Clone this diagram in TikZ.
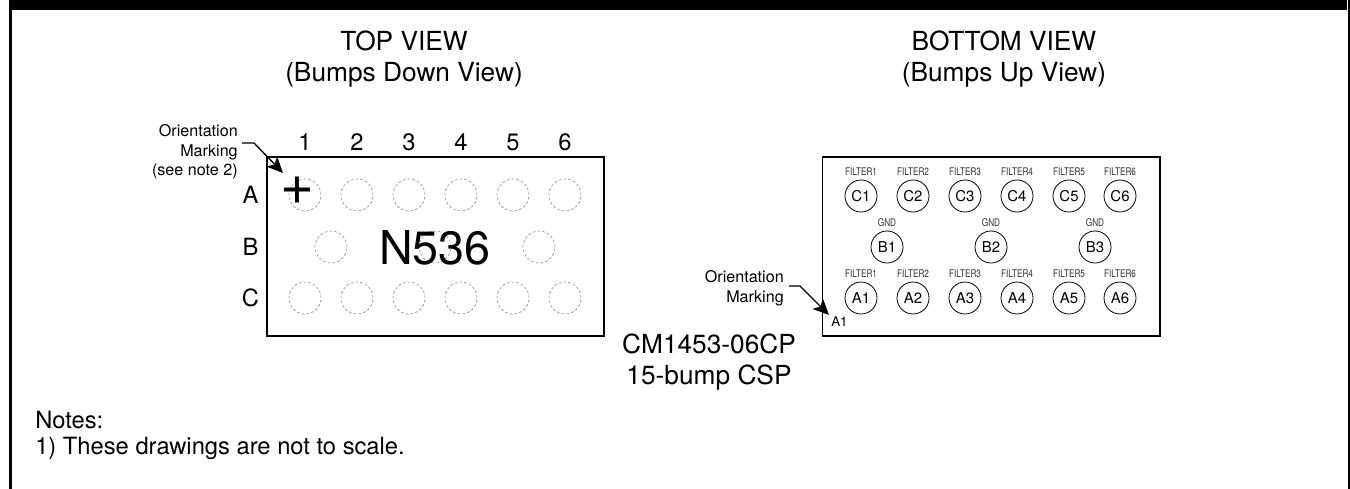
\documentclass[tikz,border=0pt]{standalone}
\usepackage{fontspec}
\setmainfont{TeX Gyre Heros}
\newfontfamily\narrowfont[FakeStretch=0.78]{TeX Gyre Heros}
\usetikzlibrary{arrows.meta}
\tikzset{
  x=0.75pt,y=-0.75pt,
  lab/.style={inner sep=0pt,align=center,font=\fontsize{17.8}{21}\selectfont},
  ttl/.style={inner sep=0pt,align=center,font=\fontsize{19.7}{23}\selectfont},
  small/.style={inner sep=0pt,align=right,font=\fontsize{12.1}{14.6}\selectfont},
  tiny/.style={inner sep=0pt,font=\narrowfont\fontsize{7.9}{8}\selectfont,text=black!80},
  pack/.style={draw,line width=1.4pt,inner sep=0pt,outer sep=0pt,minimum width=252.9pt,minimum height=134.25pt,anchor=north west},
  ghost/.style={draw=black!45,dash pattern=on 2pt off 1.6pt,line width=0.45pt,circle,minimum size=24pt,inner sep=0pt},
  bump/.style={draw,line width=0.6pt,circle,minimum size=24pt,inner sep=0pt,font=\fontsize{11.2}{14}\selectfont},
  lead/.style={line width=1pt,-{Stealth[length=12pt,width=11pt,inset=3pt]}},
}
\begin{document}
\begin{tikzpicture}
\useasboundingbox (0,0) rectangle (1350,489);
\fill (9,0) rectangle (1347,9.5);
\fill (9,0) rectangle (11.5,489);
\fill (1348,0) rectangle (1350,489);
% packages
\node[pack] (topbody) at (267,157) {};
\node[pack] (botbody) at (822.5,157) {};
% titles
\node[ttl] (toptitle) at (404,59) {TOP VIEW\\(Bumps Down View)};
\node[ttl] (bottitle) at (1004,59) {BOTTOM VIEW\\(Bumps Up View)};
\node[ttl] (part) at (709,362) {CM1453-06CP\\15-bump CSP};
% top view bumps
\foreach \n/\x/\y in {a1/305/195,a2/357/195,a3/409/195,a4/461/195,a5/513/195,a6/565/195,
  b1/331/247,b2/435/247,b3/539/247,
  c1/305/298,c2/357/298,c3/409/298,c4/461/298,c5/513/298,c6/565/298}
  \node[ghost] (t\n) at (\x,\y) {};
\foreach \n/\x in {1/305,2/357,3/409,4/461,5/513,6/565}
  \node[lab] (col\n) at (\x,142) {\n};
\node[lab] (rowa) at (250.5,195) {A};
\node[lab] (rowb) at (250.5,247) {B};
\node[lab] (rowc) at (250.5,298) {C};
\node[inner sep=0pt,font=\fontsize{35}{40}\selectfont] (mark) at (435,248) {N536};
\node[inner sep=0pt,font=\fontsize{43.5}{46}\selectfont] (plus) at (297,191) {+};
\node[small,anchor=east] (o1) at (238,152) {Orientation\\Marking\\(see note 2)};
\coordinate (tip1) at (283,173);
\draw[lead] (242,143) -- (254,143) -- (tip1);
% bottom view
\foreach \n/\x/\f in {1/861/FILTER1,2/913/FILTER2,3/965/FILTER3,4/1017/FILTER4,5/1069/FILTER5,6/1120/FILTER6}{
  \node[bump] (C\n) at (\x,196) {C\n};
  \node[bump] (A\n) at (\x,298) {A\n};
  \node[tiny] (lc\n) at (\x,172) {\f};
  \node[tiny] (la\n) at (\x,274) {\f};
}
\foreach \n/\x in {1/887,2/991,3/1095}{
  \node[bump] (B\n) at (\x,247) {B\n};
  \node[tiny] (lb\n) at (\x,223) {GND};
}
\node[small,anchor=east] (o2) at (784,288) {Orientation\\Marking};
\node[inner sep=0pt,font=\fontsize{10}{11}\selectfont] (a1lab) at (839.5,322) {A1};
\coordinate (tip2) at (829,315);
\draw[lead] (789,286) -- (800,286) -- (tip2);
% notes
\node[lab,anchor=west] (n1) at (35,420) {Notes:};
\node[lab,anchor=west] (n2) at (35,448) {1) These drawings are not to scale.};
\end{tikzpicture}
\end{document}
